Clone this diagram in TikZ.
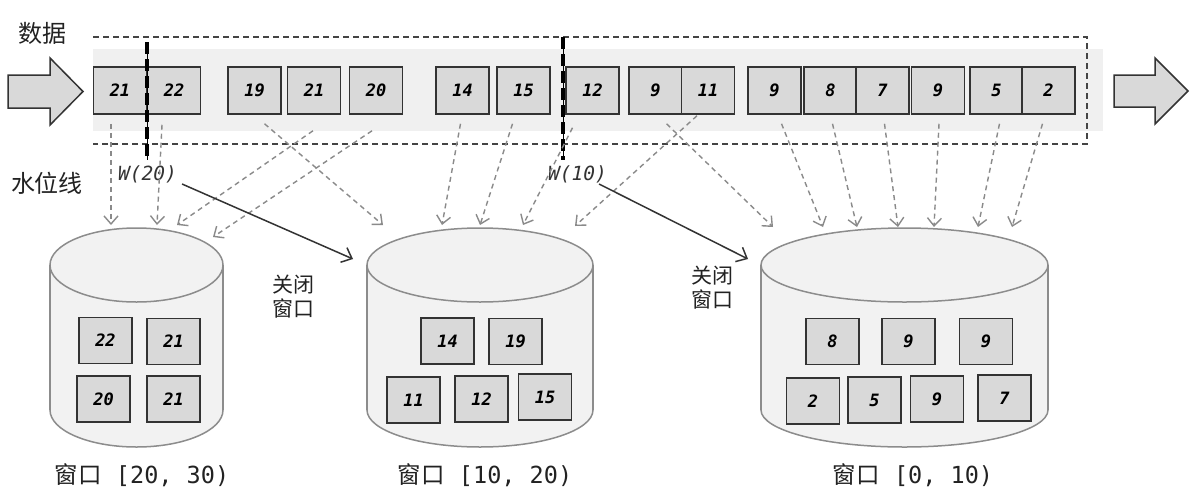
\documentclass[tikz,border=0pt]{standalone}
\usepackage{fontspec}
\newfontfamily\cjk{Noto Sans CJK SC}
\newfontfamily\mono{DejaVu Sans Mono}
\usetikzlibrary{arrows.meta,calc}
\definecolor{boxfill}{HTML}{D9D9D9}
\definecolor{boxline}{HTML}{333333}
\definecolor{bandc}{HTML}{F0F0F0}
\definecolor{cylfill}{HTML}{F2F2F2}
\definecolor{cylline}{HTML}{8C8C8C}
\definecolor{darr}{HTML}{8A8A8A}
\definecolor{framec}{HTML}{444444}
\definecolor{txt}{HTML}{222222}
\tikzset{
  databox/.style={draw=boxline, fill=boxfill, line width=1.5pt, minimum width=53pt, minimum height=47pt, inner sep=0pt, font=\mono\bfseries\itshape\fontsize{17}{20}\selectfont},
  cylbox/.style={databox, minimum height=46pt},
  feed/.style={draw=darr, line width=1.4pt, dash pattern=on 5pt off 4pt, -{Straight Barb[length=8pt,width=14pt]}},
  closearrow/.style={draw=boxline, line width=1.5pt, -{Straight Barb[length=9pt,width=16pt]}},
  bigarrow/.style={draw=boxline, fill=boxfill, line width=1.5pt, line join=miter},
  cjktext/.style={text=txt, inner sep=0pt, font=\cjk\fontsize{24}{28}\selectfont},
  closetext/.style={text=txt, inner sep=0pt, align=center, font=\cjk\fontsize{21}{24}\selectfont},
  wintext/.style={text=txt, inner sep=0pt},
  wtext/.style={text=boxline, inner sep=0pt, font=\mono\itshape\fontsize{19.5}{22}\selectfont},
  wline/.style={draw=black, line width=0.8pt},
  wdash/.style={draw=black, line width=3.2pt, dash pattern=on 12pt off 5pt},
  cylstroke/.style={draw=cylline, line width=1.5pt, fill=cylfill},
}
\newcommand{\drawcyl}[2]{% cx, rx
  \path[cylstroke] (#1,410) ellipse [x radius=#2, y radius=37];
  \fill[cylfill] (#1-#2,265) rectangle (#1+#2,410);
  \draw[cylline, line width=1.5pt] (#1-#2,265) -- (#1-#2,410);
  \draw[cylline, line width=1.5pt] (#1+#2,265) -- (#1+#2,410);
  \path[cylstroke] (#1,265) ellipse [x radius=#2, y radius=37];
}
\newcommand{\winlabel}[1]{{\cjk\fontsize{23.5}{28}\selectfont 窗口}{\mono\fontsize{23.5}{28}\selectfont\ #1}}
\begin{document}
\begin{tikzpicture}[x=1pt,y=-1pt]
\useasboundingbox (0,0) rectangle (1192,499);
\fill[white] (0,0) rectangle (1192,499);

% band and frame
\fill[bandc] (93,49) rectangle (1103,131);
\draw[framec, line width=1.5pt, dash pattern=on 6pt off 4pt] (93,37) -- (1087,37) -- (1087,144) -- (93,144);

% big arrows
\path[bigarrow] (8,75) -- (50,75) -- (50,58) -- (83,91.5) -- (50,125) -- (50,108) -- (8,108) -- cycle;
\path[bigarrow] (1114,75) -- (1155,75) -- (1155,58) -- (1188,91) -- (1155,124) -- (1155,107) -- (1114,107) -- cycle;

% labels
\node[cjktext] (data) at (43,33) {数据};
\node[cjktext] (wmark) at (47,183) {水位线};

% top row boxes
\node[databox] (t1) at (120,90.5) {21};
\node[databox] (t2) at (174,90.5) {22};
\node[databox] (t3) at (254.5,90.5) {19};
\node[databox] (t4) at (314,90.5) {21};
\node[databox] (t5) at (376,90.5) {20};
\node[databox] (t6) at (462.5,90.5) {14};
\node[databox] (t7) at (523.5,90.5) {15};
\node[databox] (t8) at (592.5,90.5) {12};
\node[databox] (t9) at (655.5,90.5) {9};
\node[databox] (t10) at (708,90.5) {11};
\node[databox] (t11) at (774.5,90.5) {9};
\node[databox] (t12) at (830.5,90.5) {8};
\node[databox] (t13) at (882.5,90.5) {7};
\node[databox] (t14) at (938,90.5) {9};
\node[databox] (t15) at (996.5,90.5) {5};
\node[databox] (t16) at (1048.5,90.5) {2};

% watermark lines
\coordinate (w20top) at (147,42);
\coordinate (w20bot) at (147,160);
\coordinate (w10top) at (563,37);
\coordinate (w10bot) at (563,160);
\draw[wline] (w20top) -- (w20bot);
\draw[wdash] (w20top) -- (w20bot);
\draw[wline] (w10top) -- (w10bot);
\draw[wdash] (w10top) -- (w10bot);
\node[wtext] (wl20) at (147.5,174) {W(20)};
\node[wtext] (wl10) at (577.5,174) {W(10)};

% cylinders
\drawcyl{136.5}{86.5}
\drawcyl{480}{113}
\drawcyl{904.5}{143.5}

% cylinder contents
\node[cylbox] (c1a) at (105.5,340.5) {22};
\node[cylbox] (c1b) at (173.5,341.5) {21};
\node[cylbox] (c1c) at (103.5,399) {20};
\node[cylbox] (c1d) at (173.5,399) {21};

\node[cylbox] (c2a) at (447.5,341) {14};
\node[cylbox] (c2b) at (515.5,341.5) {19};
\node[cylbox] (c2c) at (413.5,400) {11};
\node[cylbox] (c2d) at (481.5,399) {12};
\node[cylbox] (c2e) at (545,397) {15};

\node[cylbox] (c3a) at (832.5,341.5) {8};
\node[cylbox] (c3b) at (908.5,341.5) {9};
\node[cylbox] (c3c) at (986,341.5) {9};
\node[cylbox] (c3d) at (813,401) {2};
\node[cylbox] (c3e) at (874.5,400) {5};
\node[cylbox] (c3f) at (937,399) {9};
\node[cylbox] (c3g) at (1004.5,398) {7};

% window labels
\node[wintext] (win1) at (142,475) {\winlabel{[20, 30)}};
\node[wintext] (win2) at (485,475) {\winlabel{[10, 20)}};
\node[wintext] (win3) at (913,475) {\winlabel{[0, 10)}};

\node[closetext] (close1) at (293,297) {关闭\\窗口};
\node[closetext] (close2) at (712,288) {关闭\\窗口};

% feed arrow end points
\coordinate (e1) at (111,225);
\coordinate (e2) at (157,225);
\coordinate (e4) at (177,225);
\coordinate (e5) at (213,237);
\coordinate (e3) at (383,225);
\coordinate (e6) at (442,225);
\coordinate (e7) at (480,225);
\coordinate (e8) at (523,225);
\coordinate (e10) at (575,226);
\coordinate (e9) at (773,227);
\coordinate (e11) at (823,227);
\coordinate (e12) at (857,227);
\coordinate (e13) at (898,227);
\coordinate (e14) at (934,227);
\coordinate (e15) at (978,227);
\coordinate (e16) at (1012,227);

\draw[feed] ($(t1.south)+(-9,9)$) -- (e1);
\draw[feed] ($(t2.south)+(-12,10)$) -- (e2);
\draw[feed] ($(t4.south)+(-1,16)$) -- (e4);
\draw[feed] ($(t5.south)+(-4,16)$) -- (e5);
\draw[feed] ($(t3.south)+(10,9)$) -- (e3);
\draw[feed] ($(t6.south)+(-2,9)$) -- (e6);
\draw[feed] ($(t7.south)+(-11,9)$) -- (e7);
\draw[feed] ($(t8.south)+(-20,13)$) -- (e8);
\draw[feed] ($(t10.south)+(-11,1)$) -- (e10);
\draw[feed] ($(t9.south)+(11,9)$) -- (e9);
\draw[feed] ($(t11.south)+(7,9)$) -- (e11);
\draw[feed] ($(t12.south)+(2,9)$) -- (e12);
\draw[feed] ($(t13.south)+(2,9)$) -- (e13);
\draw[feed] ($(t14.south)+(1,9)$) -- (e14);
\draw[feed] ($(t15.south)+(3,9)$) -- (e15);
\draw[feed] ($(t16.south)+(-6,9)$) -- (e16);

% close-window arrows
\coordinate (a1) at (353,259);
\coordinate (a2) at (748,259);
\draw[closearrow] ($(wl20.east)+(5,10)$) -- (a1);
\draw[closearrow] ($(wl10.east)+(-8,10)$) -- (a2);
\end{tikzpicture}
\end{document}
